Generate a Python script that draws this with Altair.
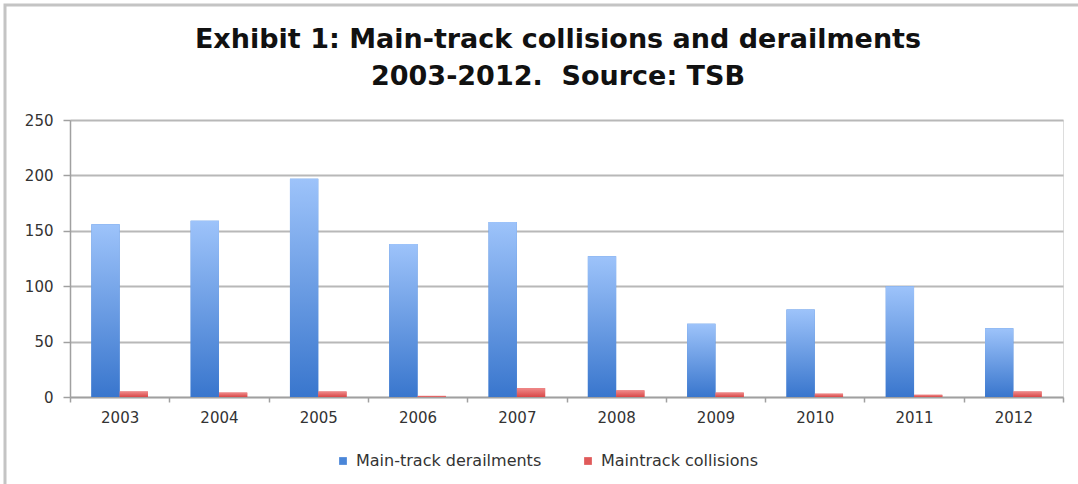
import altair as alt
import pandas as pd

# Annual main-track occurrences, 2003-2012
years = ["2003", "2004", "2005", "2006", "2007", "2008", "2009", "2010", "2011", "2012"]
derailments = [156, 159, 197, 138, 158, 127, 66, 79, 100, 62]
collisions = [5, 4, 5, 1, 8, 6, 4, 3, 2, 5]
series_names = ["Main-track derailments", "Maintrack collisions"]
y_ticks = [0, 50, 100, 150, 200, 250]
title_line1 = "Exhibit 1: Main-track collisions and derailments"
title_line2 = "2003-2012.\u00a0 Source: TSB"

rows = []
for yr, d, c in zip(years, derailments, collisions):
    rows.append({"year": yr, "series": series_names[0], "value": d})
    rows.append({"year": yr, "series": series_names[1], "value": c})
df = pd.DataFrame(rows)

W, H = 993, 277
FONT = "DejaVu Sans"
GRID = "#b8b8b8"

x_enc = alt.X(
    "year:N",
    sort=years,
    title=None,
    scale=alt.Scale(paddingInner=0, paddingOuter=0),
    axis=alt.Axis(
        labelAngle=0,
        labelFont=FONT,
        labelFontSize=15,
        labelColor="#333333",
        labelPadding=8,
        tickBand="extent",
        tickColor="#a0a0a0",
        tickWidth=1.5,
        tickSize=5,
        domainColor="#a0a0a0",
        domainWidth=1.5,
        grid=False,
    ),
)
xoff_enc = alt.XOffset(
    "series:N",
    sort=series_names,
    scale=alt.Scale(domain=series_names, paddingInner=0, paddingOuter=0.755),
)
y_enc = alt.Y(
    "value:Q",
    title=None,
    scale=alt.Scale(domain=[0, 250], nice=False),
    axis=alt.Axis(
        values=y_ticks,
        labelFont=FONT,
        labelFontSize=15,
        labelColor="#333333",
        labelPadding=10,
        tickColor="#a0a0a0",
        tickWidth=1.5,
        tickSize=7,
        domainColor="#a0a0a0",
        domainWidth=1.5,
        gridColor=GRID,
        gridWidth=2,
    ),
)

base = alt.Chart(df).encode(x=x_enc, xOffset=xoff_enc, y=y_enc)

# Solid bars carry the legend; gradient bars are painted over them
solid = base.mark_bar().encode(
    color=alt.Color(
        "series:N",
        sort=series_names,
        scale=alt.Scale(domain=series_names, range=["#4a86d8", "#e05a5a"]),
        legend=alt.Legend(
            title=None,
            orient="none",
            legendX=265,
            legendY=333,
            direction="horizontal",
            symbolType="square",
            symbolSize=60,
            symbolStrokeWidth=0,
            labelFont=FONT,
            labelFontSize=16,
            labelLimit=400,
            labelColor="#333333",
            columnPadding=38,
            labelOffset=5,
        ),
    )
)

blue_grad = alt.Gradient(
    gradient="linear",
    x1=0, x2=0, y1=0, y2=1,
    stops=[
        alt.GradientStop(offset=0, color="#9dc3fa"),
        alt.GradientStop(offset=1, color="#3976cd"),
    ],
)
red_grad = alt.Gradient(
    gradient="linear",
    x1=0, x2=0, y1=0, y2=1,
    stops=[
        alt.GradientStop(offset=0, color="#f08a8a"),
        alt.GradientStop(offset=1, color="#d84848"),
    ],
)

blue = base.transform_filter(alt.datum.series == series_names[0]).mark_bar(color=blue_grad)
red = base.transform_filter(alt.datum.series == series_names[1]).mark_bar(color=red_grad)

# Gray frame around the chart (top and left edges show)
frame = alt.Chart(pd.DataFrame({"k": [0]})).mark_rect(
    fillOpacity=0, stroke="#c4c4c4", strokeWidth=3
).encode(
    x=alt.value(-65), x2=alt.value(W + 40),
    y=alt.value(-115), y2=alt.value(H + 120),
)


def heading_line(text, y_px):
    return alt.Chart(pd.DataFrame({"line": [text]})).mark_text(
        font="DejaVu Sans",
        fontSize=27,
        fontWeight="bold",
        color="#111111",
        align="center",
        baseline="alphabetic",
    ).encode(text="line:N", x=alt.value(488), y=alt.value(y_px))


heading1 = heading_line(title_line1, -72)
heading2 = heading_line(title_line2, -35)

chart = alt.layer(frame, solid, blue, red, heading1, heading2).properties(
    width=W,
    height=H,
    autosize=alt.AutoSizeParams(type="none"),
    padding={"left": 70, "top": 120, "right": 15, "bottom": 87},
).configure_view(stroke=None).configure(background="white")

chart.save("out.html", embed_options={"renderer": "svg", "actions": False})
